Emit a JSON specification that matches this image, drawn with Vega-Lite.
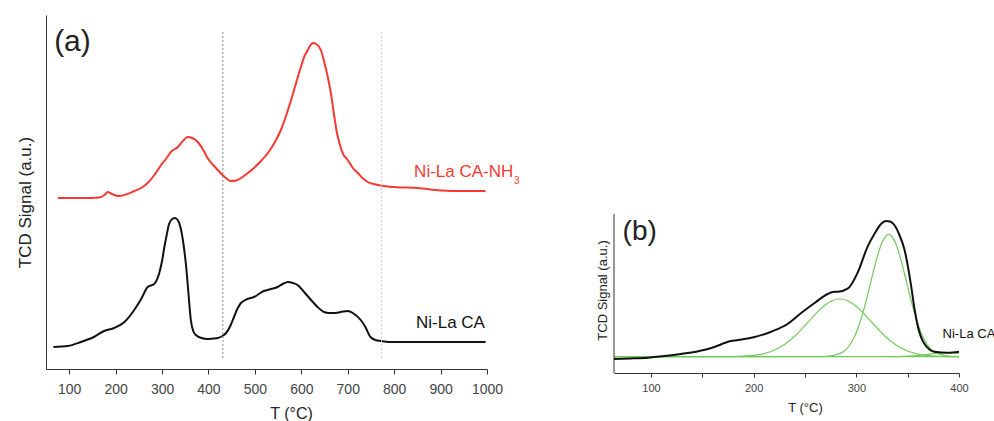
{
  "$schema": "https://vega.github.io/schema/vega-lite/v6.json",
  "background": "white",
  "padding": {"left": 16, "top": 15, "right": 0, "bottom": 0},
  "bounds": "flush",
  "spacing": 127,
  "config": {
    "view": {"stroke": null},
    "font": "Liberation Sans",
    "axis": {"grid": false, "domainColor": "#333333", "tickColor": "#333333", "labelColor": "#444444", "titleColor": "#222222", "titleFontWeight": "normal", "labelFont": "Liberation Sans", "titleFont": "Liberation Sans", "labelFlush": false, "labelOverlap": false}
  },
  "datasets": {
    "curvesA": [
      {"series": "Ni-La CA-NH3", "T": 76, "S": 171}, {"series": "Ni-La CA-NH3", "T": 100, "S": 171}, {"series": "Ni-La CA-NH3", "T": 130, "S": 171}, {"series": "Ni-La CA-NH3", "T": 164, "S": 171.5},
      {"series": "Ni-La CA-NH3", "T": 176, "S": 174}, {"series": "Ni-La CA-NH3", "T": 183, "S": 177}, {"series": "Ni-La CA-NH3", "T": 190, "S": 175.5}, {"series": "Ni-La CA-NH3", "T": 200, "S": 173.5},
      {"series": "Ni-La CA-NH3", "T": 208, "S": 173}, {"series": "Ni-La CA-NH3", "T": 225, "S": 175}, {"series": "Ni-La CA-NH3", "T": 240, "S": 178}, {"series": "Ni-La CA-NH3", "T": 255, "S": 181},
      {"series": "Ni-La CA-NH3", "T": 269, "S": 186}, {"series": "Ni-La CA-NH3", "T": 285, "S": 195}, {"series": "Ni-La CA-NH3", "T": 298, "S": 204}, {"series": "Ni-La CA-NH3", "T": 310, "S": 211},
      {"series": "Ni-La CA-NH3", "T": 319, "S": 217}, {"series": "Ni-La CA-NH3", "T": 334, "S": 222}, {"series": "Ni-La CA-NH3", "T": 345, "S": 228}, {"series": "Ni-La CA-NH3", "T": 355, "S": 232},
      {"series": "Ni-La CA-NH3", "T": 365, "S": 231}, {"series": "Ni-La CA-NH3", "T": 377, "S": 227}, {"series": "Ni-La CA-NH3", "T": 390, "S": 218}, {"series": "Ni-La CA-NH3", "T": 398, "S": 211},
      {"series": "Ni-La CA-NH3", "T": 410, "S": 204}, {"series": "Ni-La CA-NH3", "T": 420, "S": 199}, {"series": "Ni-La CA-NH3", "T": 435, "S": 192}, {"series": "Ni-La CA-NH3", "T": 448, "S": 188},
      {"series": "Ni-La CA-NH3", "T": 460, "S": 188.5}, {"series": "Ni-La CA-NH3", "T": 470, "S": 191}, {"series": "Ni-La CA-NH3", "T": 485, "S": 196}, {"series": "Ni-La CA-NH3", "T": 498, "S": 201},
      {"series": "Ni-La CA-NH3", "T": 513, "S": 208}, {"series": "Ni-La CA-NH3", "T": 528, "S": 216}, {"series": "Ni-La CA-NH3", "T": 542, "S": 226}, {"series": "Ni-La CA-NH3", "T": 556, "S": 239},
      {"series": "Ni-La CA-NH3", "T": 567, "S": 253}, {"series": "Ni-La CA-NH3", "T": 578, "S": 269}, {"series": "Ni-La CA-NH3", "T": 590, "S": 288}, {"series": "Ni-La CA-NH3", "T": 599, "S": 302},
      {"series": "Ni-La CA-NH3", "T": 607, "S": 313}, {"series": "Ni-La CA-NH3", "T": 614, "S": 319}, {"series": "Ni-La CA-NH3", "T": 620, "S": 324}, {"series": "Ni-La CA-NH3", "T": 625, "S": 326},
      {"series": "Ni-La CA-NH3", "T": 632, "S": 325}, {"series": "Ni-La CA-NH3", "T": 642, "S": 319}, {"series": "Ni-La CA-NH3", "T": 650, "S": 306}, {"series": "Ni-La CA-NH3", "T": 657, "S": 292},
      {"series": "Ni-La CA-NH3", "T": 664, "S": 275}, {"series": "Ni-La CA-NH3", "T": 670, "S": 256}, {"series": "Ni-La CA-NH3", "T": 676, "S": 238}, {"series": "Ni-La CA-NH3", "T": 682, "S": 226},
      {"series": "Ni-La CA-NH3", "T": 690, "S": 215}, {"series": "Ni-La CA-NH3", "T": 700, "S": 209}, {"series": "Ni-La CA-NH3", "T": 711, "S": 201}, {"series": "Ni-La CA-NH3", "T": 722, "S": 196},
      {"series": "Ni-La CA-NH3", "T": 733, "S": 190.5}, {"series": "Ni-La CA-NH3", "T": 743, "S": 187}, {"series": "Ni-La CA-NH3", "T": 760, "S": 184.5}, {"series": "Ni-La CA-NH3", "T": 778, "S": 183},
      {"series": "Ni-La CA-NH3", "T": 800, "S": 182}, {"series": "Ni-La CA-NH3", "T": 851, "S": 181}, {"series": "Ni-La CA-NH3", "T": 900, "S": 178.5}, {"series": "Ni-La CA-NH3", "T": 922, "S": 178},
      {"series": "Ni-La CA-NH3", "T": 960, "S": 178}, {"series": "Ni-La CA-NH3", "T": 997, "S": 178},
      {"series": "Ni-La CA", "T": 66, "S": 22}, {"series": "Ni-La CA", "T": 97, "S": 23}, {"series": "Ni-La CA", "T": 125, "S": 27}, {"series": "Ni-La CA", "T": 153, "S": 32},
      {"series": "Ni-La CA", "T": 175, "S": 38}, {"series": "Ni-La CA", "T": 197, "S": 41}, {"series": "Ni-La CA", "T": 219, "S": 47}, {"series": "Ni-La CA", "T": 240, "S": 59},
      {"series": "Ni-La CA", "T": 255, "S": 70}, {"series": "Ni-La CA", "T": 269, "S": 82}, {"series": "Ni-La CA", "T": 283, "S": 85}, {"series": "Ni-La CA", "T": 294, "S": 96},
      {"series": "Ni-La CA", "T": 300, "S": 108}, {"series": "Ni-La CA", "T": 305, "S": 122}, {"series": "Ni-La CA", "T": 310, "S": 134}, {"series": "Ni-La CA", "T": 315, "S": 145},
      {"series": "Ni-La CA", "T": 322, "S": 150}, {"series": "Ni-La CA", "T": 328, "S": 151}, {"series": "Ni-La CA", "T": 335, "S": 148}, {"series": "Ni-La CA", "T": 341, "S": 139},
      {"series": "Ni-La CA", "T": 347, "S": 122}, {"series": "Ni-La CA", "T": 352, "S": 102}, {"series": "Ni-La CA", "T": 357, "S": 75}, {"series": "Ni-La CA", "T": 362, "S": 49},
      {"series": "Ni-La CA", "T": 368, "S": 37}, {"series": "Ni-La CA", "T": 373, "S": 34}, {"series": "Ni-La CA", "T": 385, "S": 31}, {"series": "Ni-La CA", "T": 398, "S": 30},
      {"series": "Ni-La CA", "T": 410, "S": 30.5}, {"series": "Ni-La CA", "T": 420, "S": 31}, {"series": "Ni-La CA", "T": 430, "S": 33}, {"series": "Ni-La CA", "T": 438, "S": 36},
      {"series": "Ni-La CA", "T": 447, "S": 43}, {"series": "Ni-La CA", "T": 455, "S": 52}, {"series": "Ni-La CA", "T": 462, "S": 60}, {"series": "Ni-La CA", "T": 470, "S": 66},
      {"series": "Ni-La CA", "T": 484, "S": 70}, {"series": "Ni-La CA", "T": 498, "S": 72}, {"series": "Ni-La CA", "T": 519, "S": 78}, {"series": "Ni-La CA", "T": 535, "S": 80},
      {"series": "Ni-La CA", "T": 549, "S": 82}, {"series": "Ni-La CA", "T": 560, "S": 85}, {"series": "Ni-La CA", "T": 571, "S": 87}, {"series": "Ni-La CA", "T": 582, "S": 86},
      {"series": "Ni-La CA", "T": 592, "S": 84}, {"series": "Ni-La CA", "T": 606, "S": 77}, {"series": "Ni-La CA", "T": 621, "S": 69}, {"series": "Ni-La CA", "T": 635, "S": 62},
      {"series": "Ni-La CA", "T": 649, "S": 57}, {"series": "Ni-La CA", "T": 660, "S": 56}, {"series": "Ni-La CA", "T": 670, "S": 56}, {"series": "Ni-La CA", "T": 685, "S": 57},
      {"series": "Ni-La CA", "T": 700, "S": 58}, {"series": "Ni-La CA", "T": 714, "S": 55}, {"series": "Ni-La CA", "T": 728, "S": 49}, {"series": "Ni-La CA", "T": 738, "S": 42},
      {"series": "Ni-La CA", "T": 749, "S": 32}, {"series": "Ni-La CA", "T": 760, "S": 29}, {"series": "Ni-La CA", "T": 771, "S": 28}, {"series": "Ni-La CA", "T": 790, "S": 27},
      {"series": "Ni-La CA", "T": 814, "S": 27}, {"series": "Ni-La CA", "T": 900, "S": 27}, {"series": "Ni-La CA", "T": 997, "S": 27}
    ],
    "blackB": [
      {"T": 64, "S": 14}, {"T": 80, "S": 14.5}, {"T": 97, "S": 15.3}, {"T": 113, "S": 17}, {"T": 129, "S": 19}, {"T": 145, "S": 21.5},
      {"T": 158, "S": 24.7}, {"T": 168, "S": 28.5}, {"T": 175, "S": 31.3}, {"T": 185, "S": 33}, {"T": 200, "S": 35.7}, {"T": 217, "S": 41.3},
      {"T": 233, "S": 49}, {"T": 246, "S": 59.7}, {"T": 259, "S": 69.7}, {"T": 272, "S": 79}, {"T": 277, "S": 81}, {"T": 282, "S": 81.3},
      {"T": 292, "S": 84.7}, {"T": 301, "S": 99.7}, {"T": 311, "S": 126.3}, {"T": 318, "S": 139.7}, {"T": 324, "S": 149}, {"T": 329, "S": 152},
      {"T": 333, "S": 151.5}, {"T": 337, "S": 148}, {"T": 342, "S": 138}, {"T": 347, "S": 123}, {"T": 353, "S": 89.7}, {"T": 357, "S": 62},
      {"T": 360, "S": 46.3}, {"T": 366, "S": 29.7}, {"T": 376, "S": 21.3}, {"T": 389, "S": 20.3}, {"T": 400, "S": 21.3}
    ],
    "greenB": [
      {"series": "base", "T": 64, "S": 16.3}, {"series": "base", "T": 400, "S": 16.3},
      {"series": "g1", "T": 64, "S": 16.3}, {"series": "g1", "T": 150, "S": 16.3}, {"series": "g1", "T": 170, "S": 16.4}, {"series": "g1", "T": 185, "S": 16.6},
      {"series": "g1", "T": 200, "S": 17.6}, {"series": "g1", "T": 210, "S": 19.4}, {"series": "g1", "T": 220, "S": 22.8}, {"series": "g1", "T": 230, "S": 28.5},
      {"series": "g1", "T": 240, "S": 36.8}, {"series": "g1", "T": 248, "S": 45.2}, {"series": "g1", "T": 255, "S": 53.1}, {"series": "g1", "T": 263, "S": 61.9},
      {"series": "g1", "T": 270, "S": 68.3}, {"series": "g1", "T": 277, "S": 72.5}, {"series": "g1", "T": 284, "S": 74}, {"series": "g1", "T": 291, "S": 72.5},
      {"series": "g1", "T": 298, "S": 68.3}, {"series": "g1", "T": 305, "S": 61.9}, {"series": "g1", "T": 313, "S": 53.1}, {"series": "g1", "T": 320, "S": 45.2},
      {"series": "g1", "T": 328, "S": 36.8}, {"series": "g1", "T": 338, "S": 28.5}, {"series": "g1", "T": 348, "S": 22.8}, {"series": "g1", "T": 358, "S": 19.4},
      {"series": "g1", "T": 368, "S": 17.6}, {"series": "g1", "T": 383, "S": 16.6}, {"series": "g1", "T": 400, "S": 16.3},
      {"series": "g2", "T": 64, "S": 16.3}, {"series": "g2", "T": 260, "S": 16.3}, {"series": "g2", "T": 270, "S": 16.6}, {"series": "g2", "T": 285, "S": 19.9},
      {"series": "g2", "T": 295, "S": 30.2}, {"series": "g2", "T": 300, "S": 40.5}, {"series": "g2", "T": 305, "S": 55.2}, {"series": "g2", "T": 310, "S": 73.8},
      {"series": "g2", "T": 315, "S": 94.8}, {"series": "g2", "T": 320, "S": 114.9}, {"series": "g2", "T": 325, "S": 130.5}, {"series": "g2", "T": 331.5, "S": 138.7},
      {"series": "g2", "T": 338, "S": 130.5}, {"series": "g2", "T": 343, "S": 114.9}, {"series": "g2", "T": 348, "S": 94.8}, {"series": "g2", "T": 353, "S": 73.8},
      {"series": "g2", "T": 358, "S": 55.2}, {"series": "g2", "T": 363, "S": 40.5}, {"series": "g2", "T": 368, "S": 30.2}, {"series": "g2", "T": 378, "S": 19.9},
      {"series": "g2", "T": 393, "S": 16.6}, {"series": "g2", "T": 400, "S": 16.4},
      {"series": "g3", "T": 330, "S": 16.3}, {"series": "g3", "T": 345, "S": 16.6}, {"series": "g3", "T": 355, "S": 17.1}, {"series": "g3", "T": 365, "S": 18},
      {"series": "g3", "T": 375, "S": 19.4}, {"series": "g3", "T": 385, "S": 20.2}, {"series": "g3", "T": 393, "S": 20}, {"series": "g3", "T": 400, "S": 19.5}
    ]
  },
  "hconcat": [
    {
      "width": 441,
      "height": 354,
      "layer": [
        {
          "data": {"name": "curvesA"},
          "mark": {"type": "line", "interpolate": "monotone", "strokeWidth": 2},
          "encoding": {
            "x": {"field": "T", "type": "quantitative", "scale": {"domain": [50, 1000], "nice": false, "zero": false},
              "axis": {"title": "T (°C)", "values": [100, 150, 200, 250, 300, 350, 400, 450, 500, 550, 600, 650, 700, 750, 800, 850, 900, 950, 1000],
                "labelExpr": "datum.value % 100 == 0 ? format(datum.value, 'd') : ''", "tickSize": 5, "labelPadding": 8, "labelFontSize": 14,
                "titleFontSize": 16, "titlePadding": 9, "titleX": 245}},
            "y": {"field": "S", "type": "quantitative", "scale": {"domain": [0, 354], "nice": false},
              "axis": {"title": "TCD Signal (a.u.)", "labels": false, "ticks": false, "titlePadding": 12, "titleFontSize": 17, "titleY": 187}},
            "color": {"field": "series", "type": "nominal", "scale": {"domain": ["Ni-La CA-NH3", "Ni-La CA"], "range": ["#f63a32", "#111111"]}, "legend": null}
          }
        },
        {
          "data": {"values": [{}]},
          "mark": {"type": "rule", "stroke": "#8a8a8a", "strokeDash": [2, 2], "strokeWidth": 1},
          "encoding": {"x": {"datum": 431}, "y": {"datum": 11}, "y2": {"datum": 337}}
        },
        {
          "data": {"values": [{}]},
          "mark": {"type": "rule", "stroke": "#d0d0d0", "strokeDash": [2, 2], "strokeWidth": 1},
          "encoding": {"x": {"datum": 773}, "y": {"datum": 11}, "y2": {"datum": 337}}
        },
        {
          "data": {"values": [{}]},
          "mark": {"type": "text", "text": "(a)", "fontSize": 30, "align": "center", "baseline": "alphabetic", "color": "#222222"},
          "encoding": {"x": {"datum": 107}, "y": {"datum": 318}}
        },
        {
          "data": {"values": [{}]},
          "mark": {"type": "text", "text": "Ni-La CA-NH", "fontSize": 17, "align": "left", "baseline": "alphabetic", "color": "#f63a32"},
          "encoding": {"x": {"datum": 843}, "y": {"datum": 192}}
        },
        {
          "data": {"values": [{}]},
          "mark": {"type": "text", "text": "3", "fontSize": 10, "align": "left", "baseline": "alphabetic", "color": "#f63a32", "dx": 100, "dy": 7},
          "encoding": {"x": {"datum": 843}, "y": {"datum": 192}}
        },
        {
          "data": {"values": [{}]},
          "mark": {"type": "text", "text": "Ni-La CA", "fontSize": 17, "align": "left", "baseline": "alphabetic", "color": "#111111"},
          "encoding": {"x": {"datum": 847}, "y": {"datum": 41}}
        }
      ]
    },
    {
      "width": 345,
      "height": 358,
      "layer": [
        {
          "data": {"name": "greenB"},
          "mark": {"type": "line", "interpolate": "monotone", "strokeWidth": 1.2, "color": "#74c95c"},
          "encoding": {
            "x": {"field": "T", "type": "quantitative", "scale": {"domain": [64, 400], "nice": false, "zero": false},
              "axis": {"title": "T (°C)", "values": [100, 150, 200, 250, 300, 350, 400],
                "labelExpr": "datum.value % 100 == 0 ? format(datum.value, 'd') : ''", "tickSize": 4, "labelPadding": 5, "labelFontSize": 11,
                "titleFontSize": 13, "titlePadding": 8, "titleX": 191}},
            "y": {"field": "S", "type": "quantitative", "scale": {"domain": [0, 358], "nice": false},
              "axis": {"title": "TCD Signal (a.u.)", "labels": false, "ticks": false, "domain": false, "titlePadding": 5, "titleFontSize": 13, "titleY": 275}},
            "detail": {"field": "series", "type": "nominal"}
          }
        },
        {
          "data": {"name": "blackB"},
          "mark": {"type": "line", "interpolate": "monotone", "strokeWidth": 2, "color": "#111111"},
          "encoding": {
            "x": {"field": "T", "type": "quantitative"},
            "y": {"field": "S", "type": "quantitative"}
          }
        },
        {
          "data": {"values": [{}]},
          "mark": {"type": "rule", "stroke": "#333333", "strokeWidth": 1},
          "encoding": {"x": {"datum": 64}, "y": {"datum": 0}, "y2": {"datum": 159}}
        },
        {
          "data": {"values": [{}]},
          "mark": {"type": "text", "text": "(b)", "fontSize": 28, "align": "center", "baseline": "alphabetic", "color": "#222222"},
          "encoding": {"x": {"datum": 89}, "y": {"datum": 133}}
        },
        {
          "data": {"values": [{}]},
          "mark": {"type": "text", "text": "Ni-La CA", "fontSize": 13, "align": "left", "baseline": "alphabetic", "color": "#111111"},
          "encoding": {"x": {"datum": 384}, "y": {"datum": 35}}
        }
      ]
    }
  ]
}
